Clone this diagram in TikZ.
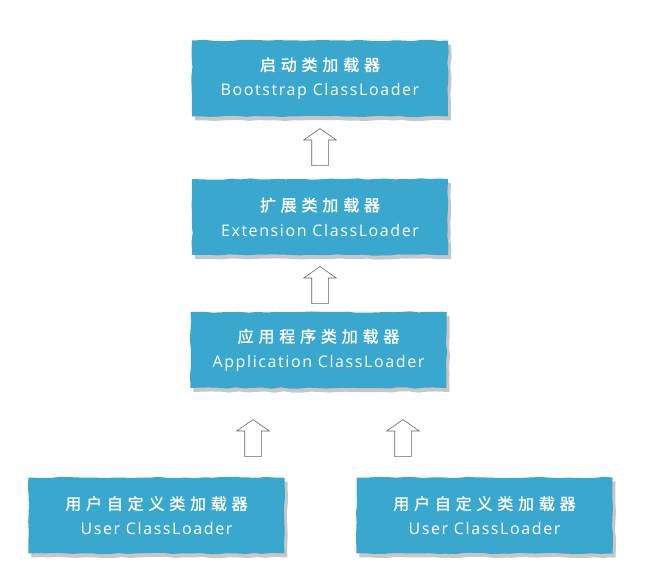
\documentclass[tikz,border=0pt]{standalone}
\usepackage{fontspec}
\usepackage{tikz}
\usetikzlibrary{shapes.arrows,shadows,decorations.pathmorphing}
\setmainfont{Open Sans}
\newfontfamily\cjk[LetterSpace=30, FakeBold=1.2]{Noto Sans CJK SC}
\newfontfamily\hand[LetterSpace=10]{Open Sans}
\definecolor{loaderblue}{RGB}{58,168,206}
\tikzset{
	loader/.style = {fill = loaderblue, text = white, minimum width = 256pt, minimum height = 76pt, align = center, inner sep = 0pt, font = \fontsize{16}{25}\selectfont, decorate, decoration = {random steps, segment length = 9pt, amplitude = 0.7pt}, drop shadow = {shadow xshift = 3pt, shadow yshift = -4pt, fill = black, opacity = 0.22}},
	upward/.style = {single arrow, draw = black!60, fill = white, shape border rotate = 90, minimum height = 37pt, single arrow head extend = 8pt, single arrow tip angle = 110, inner sep = 0pt, line width = 0.6pt}
}

\begin{document}
\begin{tikzpicture}[x = 1pt, y = -1pt]
		\pgfmathsetseed{7}
		\useasboundingbox (0,0) rectangle (653,584);
		\node[loader] (boot) at (320,78.5) {{\cjk 启动类加载器}\\{\hand Bootstrap ClassLoader}};
		\node[loader] (ext) at (320,217) {{\cjk 扩展类加载器}\\{\hand Extension ClassLoader}};
		\node[loader] (app) at (318.5,350) {{\cjk 应用程序类加载器}\\{\hand Application ClassLoader}};
		\node[loader] (userA) at (156.5,515.5) {{\cjk 用户自定义类加载器}\\{\hand User ClassLoader}};
		\node[loader] (userB) at (484.5,515.5) {{\cjk 用户自定义类加载器}\\{\hand User ClassLoader}};
		\node[upward] (extToBoot) at (320,150) {\rule{16pt}{0pt}\rule{0pt}{16pt}};
		\node[upward] (appToExt) at (320,288) {\rule{16pt}{0pt}\rule{0pt}{16pt}};
		\node[upward] (userAToApp) at (253,441) {\rule{16pt}{0pt}\rule{0pt}{16pt}};
		\node[upward] (userBToApp) at (403,441) {\rule{16pt}{0pt}\rule{0pt}{16pt}};
	\end{tikzpicture}
\end{document}
